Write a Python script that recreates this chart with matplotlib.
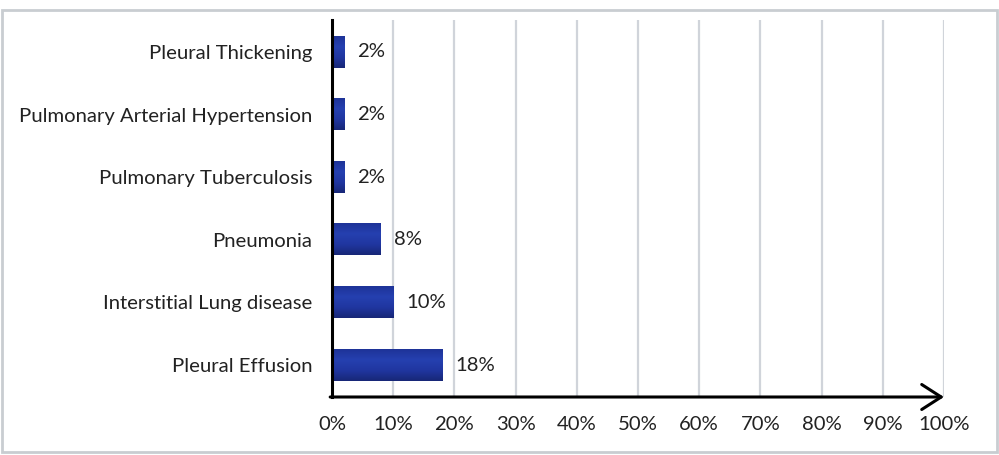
import matplotlib
matplotlib.use("Agg")
import matplotlib.pyplot as plt
import numpy as np
from matplotlib.colors import LinearSegmentedColormap
from matplotlib.patches import Rectangle

categories = ["Pleural Effusion", "Interstitial Lung disease", "Pneumonia",
              "Pulmonary Tuberculosis", "Pulmonary Arterial Hypertension",
              "Pleural Thickening"]
values = [18, 10, 8, 2, 2, 2]
value_labels = ["18%", "10%", "8%", "2%", "2%", "2%"]
xticks = [0, 10, 20, 30, 40, 50, 60, 70, 80, 90, 100]
xtick_labels = [f"{t}%" for t in xticks]

plt.rcParams['font.family'] = ['Lato', 'DejaVu Sans']
FS = 14.6

fig = plt.figure(figsize=(9.99, 4.55), dpi=100)
fig.patch.set_facecolor("white")
# outer frame
fig.add_artist(Rectangle((1.5/999, 3/455), 995/999, 442/455, transform=fig.transFigure,
                         fill=False, edgecolor="#c9cdd1", linewidth=2))

ax = fig.add_axes([332/999, 1-397/455, 612/999, 377/455])
y = np.arange(len(categories))
bars = ax.barh(y, values, height=0.5, color="#2138a0", zorder=3)

# subtle vertical gradient within each bar (dark bottom, lighter top)
cmap = LinearSegmentedColormap.from_list("g", ["#172777", "#2036a0", "#2540b0", "#1e3398"])
grad = np.linspace(0, 1, 100).reshape(-1, 1)
for b in bars:
    x0, y0, w, h = b.get_x(), b.get_y(), b.get_width(), b.get_height()
    ax.imshow(grad, extent=(x0, x0 + w, y0, y0 + h), aspect="auto", cmap=cmap,
              zorder=4, origin="lower")
    b.set_facecolor("none")

ax.set_xlim(0, 100)
ax.set_ylim(-0.51, 5.51)
ax.set_yticks(y)
ax.set_yticklabels(categories, fontsize=FS, color="#222222")
ax.set_xticks(xticks)
ax.set_xticklabels(xtick_labels, fontsize=FS, color="#222222")
ax.tick_params(axis="y", length=0, pad=14)
ax.tick_params(axis="x", length=0, pad=14)
ax.xaxis.grid(True, color="#d0d4da", linewidth=1.6, zorder=0)
ax.set_axisbelow(True)
for s in ["top", "right", "bottom"]:
    ax.spines[s].set_visible(False)
ax.spines["left"].set_linewidth(2.2)
ax.spines["left"].set_color("black")
ax.spines["left"].set_zorder(6)

for b, lab in zip(bars, value_labels):
    ax.text(b.get_width() + 2.1, b.get_y() + b.get_height() / 2, lab,
            va="center", ha="left", fontsize=FS, color="#222222")

ax.annotate("", xy=(1.0, 0), xytext=(-0.003, 0), xycoords="axes fraction",
            textcoords="axes fraction",
            arrowprops=dict(arrowstyle="->,head_length=0.7,head_width=0.45",
                            color="black", lw=2.2, mutation_scale=20,
                            shrinkA=0, shrinkB=0),
            annotation_clip=False)

fig.savefig("out.png", dpi=100, facecolor="white")
